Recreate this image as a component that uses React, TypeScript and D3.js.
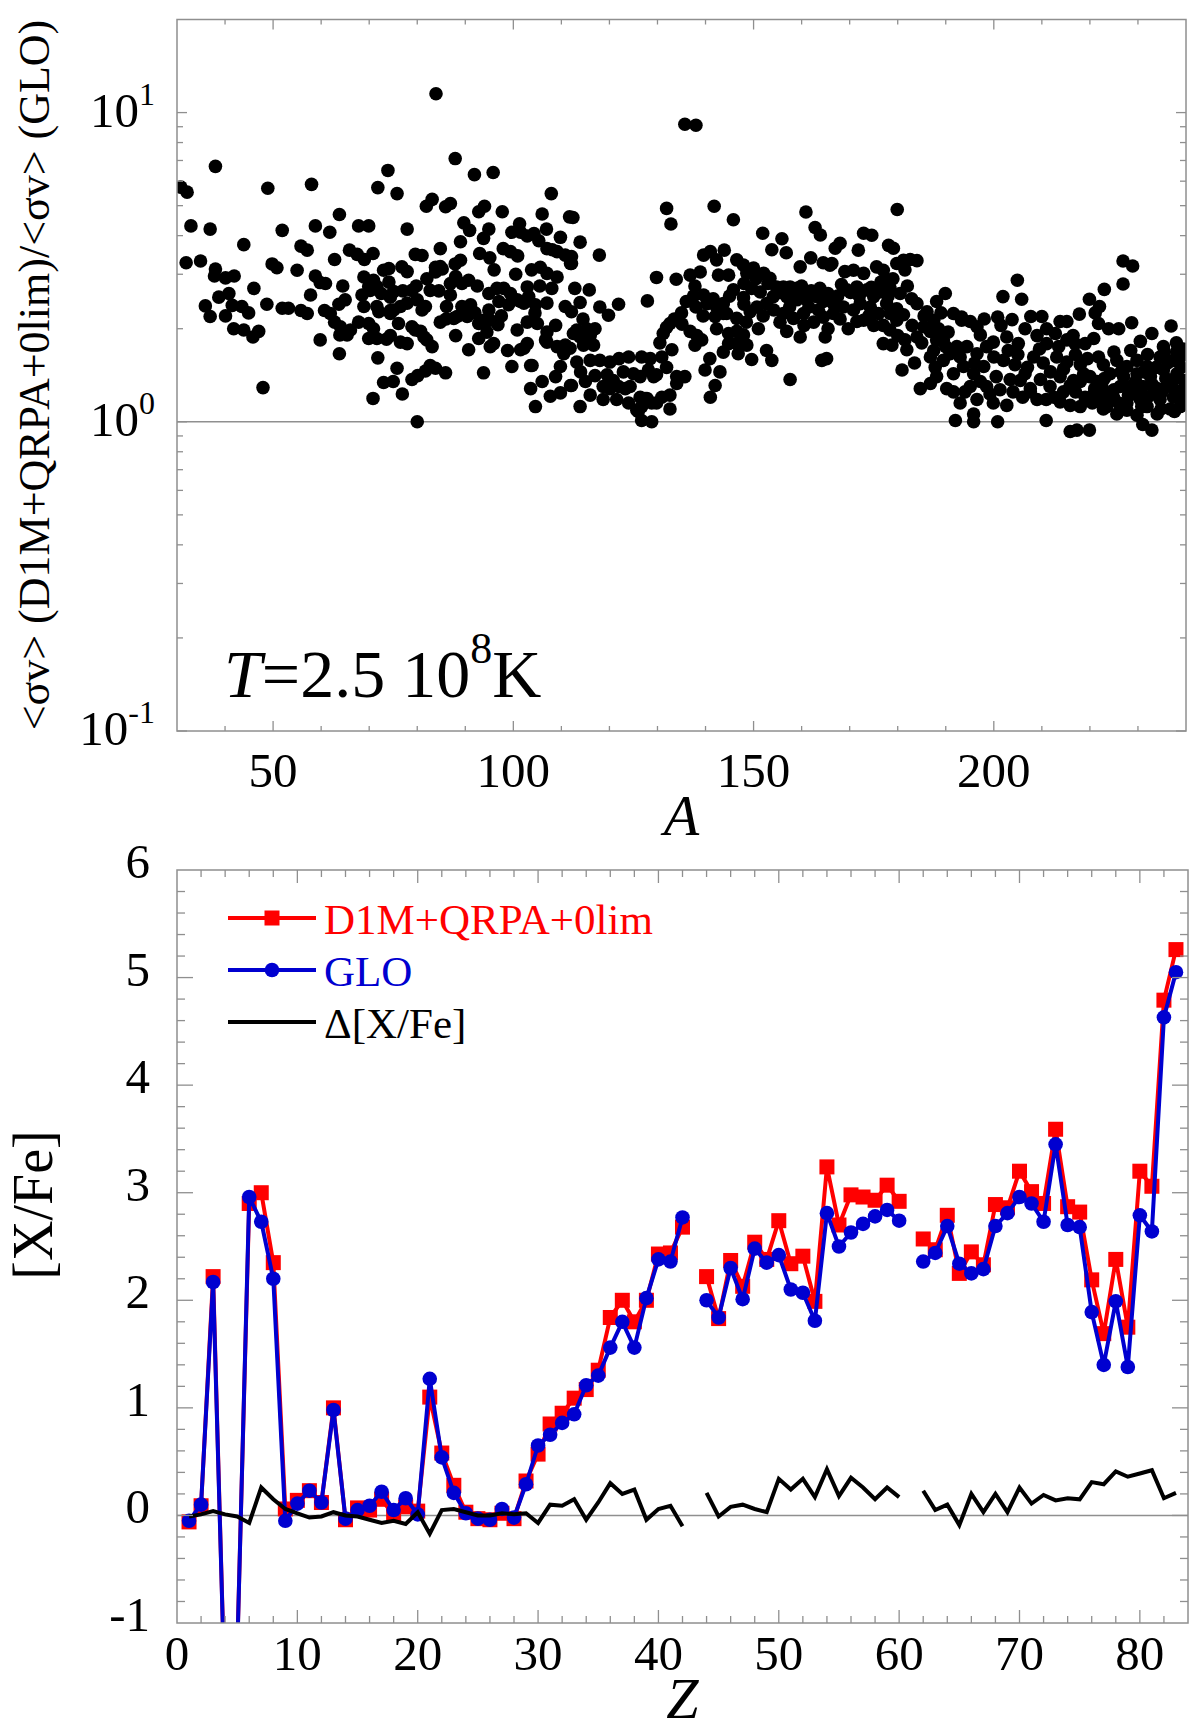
import React from 'react';
import * as d3 from 'd3';

// ratio <σv>(D1M+QRPA+0lim)/<σv>(GLO) vs mass number A
const scatterLight: [number, number][] = [
  [30.8,5.74],[32.1,5.53],[38,6.7],[32.9,4.3],[36.9,4.2],[31.9,3.27],[34.9,3.31],[38,3.12],[37.8,2.96],[40.1,2.92],
  [41.9,2.96],[43.9,3.74],[48.9,5.69],[51.9,4.16],[49.8,3.24],[50.8,3.15],[55,3.09],[58,5.86],[58.8,4.3],[61.8,4.1],
  [63.8,4.68],[67.8,4.3],[69.9,4.3],[65.9,3.59],[67.5,3.48],[69,3.35],[70.8,3.5],[55.8,3.7],[57.1,3.59],[62.8,3.35],
  [58.8,2.96],[59.8,2.82],[60.9,2.8],[57.8,2.57],[48.7,2.4],[51.9,2.33],[53.2,2.33],[55.8,2.29],[57.1,2.24],[60.7,2.29],
  [61.9,2.24],[62.8,2.1],[63.9,1.91],[63.7,2.4],[65,2.48],[68.5,2.57],[70.2,2.66],[71.6,2.74],[72.5,2.6],[68.9,2.36],
  [71.6,2.36],[72,2.27],[74.4,2.53],[75.1,2.64],[74.4,2.29],[64,2.03],[65.4,1.91],[66.1,1.98],[67.8,2.1],[69.9,2.08],
  [70.9,2.0],[59.8,1.84],[63.8,1.66],[69.9,1.86],[71.6,1.86],[73.6,1.85],[74.4,1.9],[71.8,1.61],[73,1.34],[75,1.35],
  [75.8,1.49],[70.8,1.19],[76.9,1.23],[78.9,1.37],[80.1,1.41],[81.7,1.46],[82.7,1.52],[83.8,1.49],[85.9,1.44],[80,1.0],
  [47.9,1.29],[87.9,7.1],[73.9,6.5],[71.8,5.72],[75.8,5.47],[91.9,6.3],[95.8,6.4],[107.9,5.47],[77.9,4.2],[81.9,4.98],
  [83.1,5.24],[85.9,4.96],[86.9,5.08],[92.8,4.78],[94,4.98],[97.7,4.78],[111.7,4.6],[106,4.7],[106.9,4.2],[89.7,4.4],
  [90.9,4.16],[89,3.82],[94.9,4.2],[93.8,3.92],[99.7,4.1],[101.3,4.37],[102.9,3.99],[109.8,3.95],[108.1,3.6],[74.1,3.13],
  [76.8,3.17],[77.9,3.06],[79.6,3.48],[81,3.45],[84.8,3.63],[82,2.9],[83.8,3.16],[85.2,3.12],[87.9,3.24],[89,3.33],
  [93,3.5],[95.1,3.39],[97.9,3.63],[99.4,3.55],[100.9,3.44],[101.5,4.1],[104.3,4.06],[105.3,3.85],[107,3.63],[109.1,3.55],
  [110.8,3.46],[111.9,3.25],[105.6,3.16],[107,3.02],[109.1,2.94],[102.9,2.73],[98,2.7],[101.5,2.45],[103.2,2.54],[104.6,2.39],
  [107,2.42],[110.8,2.36],[108.8,2.05],[107,1.81],[109.1,1.75],[110.8,1.77],[110.5,1.66],[103.6,1.52],[106,1.35],[107.7,1.21],
  [109.8,1.24],[111.9,1.31],[104.6,1.12],[108.8,1.4],[109.8,1.51],[99.7,1.51],[102.2,1.73],[102.9,1.79],[101.5,1.71],[100.8,1.98],
  [102.9,2.1],[105,2.08],[106.7,1.84],[107,1.95],[99.4,2.6],[100.8,2.48],[102.2,2.42],[97,2.45],[99,2.39],[96.6,2.7],
  [94.9,2.6],[94.9,2.3],[95.2,2.13],[96.8,2.06],[93.8,2.13],[92.8,2.08],[91.1,2.39],[90.4,2.19],[89.3,2.36],[88.3,2.19],
  [87.6,2.16],[89.3,2.8],[90.7,2.87],[86.9,2.8],[86.9,2.57],[86.1,2.36],[84.8,2.1],[83.8,3.05],[84.8,3.18],[82.7,2.66],
  [78.9,2.66],[80,2.48],[81,2.3],[81.7,2.36],[77.9,2.42],[76.5,2.36],[75.1,2.3],[74.4,2.24],[78.9,2.03],[79.6,1.98],
  [80.7,1.96],[81.4,1.88],[82,1.84],[83.1,1.75],[77.9,1.79],[76.5,1.81],[76.1,2.08],[92.8,1.86],[90.7,1.71],[95.2,1.75],
  [95.9,1.79],[93.8,1.44],[103.6,1.28],[103.9,1.52],[68.9,2.94],[69.9,2.74],[70.9,2.87],[73,3.09],[74.1,2.83],[35.9,2.37],
  [36.9,2.19],[38.7,2.53],[40.1,2.2],[40.8,2.6],[41.5,2.38],[43.5,2.36],[44.9,2.25],[41.8,2.0],[43.9,1.98],[45.8,1.88],
  [47,1.96],[46,2.7],[83.9,11.5],
  [64.5,2.75],[77,2.65],[79.8,2.75],[84.5,2.65],[88,2.95],[92.5,2.75],[96,3.1],[100.5,3.0],[103.8,3.1],[105.5,2.75],
  [108,2.7],[92,2.25],[97.5,2.2],[104.5,2.25],[86,2.15],[88,1.9],[94.5,1.95],[98.8,1.7],
];

const scatterMid: [number, number][] = [
  [112.4,4.58],[113.9,3.81],[112.1,3.42],[112.1,3.25],[117.9,3.46],[112.8,2.7],[115.8,2.67],[113.9,2.43],[112.1,2.27],[118,2.35],
  [119.8,2.21],[121.9,2.4],[127.9,2.46],[129.8,2.93],[131.9,4.9],[132.8,4.36],[133.9,2.89],[141.8,4.98],[145.8,4.5],[151.9,4.07],
  [155.9,3.91],[153.8,3.6],[156.8,3.52],[160.9,4.77],[162.8,4.25],[163.9,4.02],[167,3.64],[168,3.78],[161.9,3.39],[159.7,3.17],
  [166.3,3.25],[171.8,3.59],[172.9,4.07],[174.6,4.01],[178.1,3.72],[179.1,3.64],[179.9,4.86],[179.8,3.25],[181.2,3.33],[182.6,3.35],
  [184,3.32],[172.9,3.02],[175.6,3.17],[177,3.09],[177.4,2.9],[169,3.06],[170.8,3.09],[164.5,3.27],[165.9,3.21],[148.6,3.02],
  [150,3.14],[152.1,3.02],[153.4,2.91],[139.6,3.46],[141,3.55],[142.3,3.34],[143.9,3.59],[146.5,3.34],[147.9,3.21],[136.8,2.98],
  [138.9,3.05],[137.8,2.75],[142.7,2.98],[144.8,2.98],[145.8,2.67],[147.9,2.52],[139.6,2.57],[141.6,2.5],[143.7,2.41],[140.3,2.41],
  [142.3,2.35],[144.4,2.24],[149.6,2.7],[151.4,2.63],[150.7,2.35],[152.7,2.41],[154.1,2.54],[154.8,2.73],[156.2,2.73],[157.6,2.73],
  [159,2.7],[160.4,2.6],[156.9,2.54],[159,2.48],[161.1,2.48],[163.2,2.54],[164.5,2.45],[166.6,2.41],[156.2,2.24],[158.3,2.16],
  [160.4,2.24],[162.5,2.1],[164.5,2.18],[166.6,2.24],[168.7,2.35],[170.8,2.3],[169.4,2.67],[171.5,2.73],[173.6,2.67],[175,2.54],
  [176.3,2.63],[178.4,2.7],[172.2,2.41],[174.3,2.35],[176,2.24],[177.7,2.41],[177,2.05],[178.4,2.24],[179.8,2.32],[169.7,2.0],
  [171.5,2.11],[172.9,2.13],[155.5,2.1],[156.9,1.96],[159.7,1.88],[164.9,1.88],[164.2,1.58],[165.2,1.6],[157.6,1.37],[142,2.19],
  [143.7,2.24],[146.5,2.16],[149.3,2.27],[142.3,2.0],[144.8,1.93],[146.5,1.96],[147.9,1.91],[144.8,1.79],[146.5,1.79],[148.6,1.77],
  [146.8,1.66],[149.6,1.59],[152.7,1.7],[153.8,1.58],[140.9,1.6],[139.9,1.47],[143.7,1.68],[143,1.45],[142,1.31],[141,1.2],
  [131.2,1.93],[132.6,2.08],[131.9,2.02],[135.1,2.07],[136.8,1.96],[138.2,1.9],[137.8,1.77],[139.2,1.84],[133,1.71],[130.9,1.62],
  [131.9,1.5],[134,1.4],[135.7,1.4],[134,1.33],[132.6,1.22],[132.6,1.1],[130.9,1.2],[129.8,1.15],[126.7,1.62],[124,1.62],
  [126.4,1.2],[127.8,1.19],[128.8,1.15],[126.7,1.12],[126,1.08],[126.7,1.01],[128.8,1.0],[129.8,1.42],[120.8,1.36],[122.9,1.45],
  [125,1.43],[126.4,1.4],[128.1,1.47],[129.2,1.4],[118.7,1.3],[120.1,1.28],[121.9,1.3],[123.3,1.28],[124.3,1.3],[116,1.22],
  [118.7,1.18],[121.5,1.18],[124,1.15],[125.7,1.09],[127.4,1.19],[113.9,1.12],[112.1,1.31],[117,1.41],[113.2,1.56],[116,1.58],
  [118,1.58],[120.1,1.56],[111.8,1.73],[114.6,1.77],[116.7,1.77],[113.9,1.88],[113.2,1.98],[115.3,2.0],[117,2.0],[112.5,1.93],
  [182.9,2.5],[184,2.41],[181.2,2.22],[179.8,2.13],[178.4,1.98],[186.1,2.27],[187.5,2.13],[188.1,2.45],[189.9,2.6],[191.6,2.24],
  [193.3,2.13],[177,1.79],[178.8,1.77],[181.5,1.84],[181.9,1.71],[184,1.88],[185.4,2.03],[186.8,1.96],[188.1,1.84],[189.5,1.84],
  [186.8,1.62],[187.8,1.5],[189.5,1.58],[190.9,1.66],[192.3,1.75],[193,1.62],[180.9,1.47],[184.7,1.28],[186.8,1.33],[188.1,1.4],
  [190.2,1.28],[191.6,1.25],[193,1.15],[192,1.01],[191.6,1.43],[135.7,9.17],[138,9.1],
  [145,2.55],[148,2.8],[150.5,2.9],[153,2.8],[155.5,2.62],[158,2.6],[160,2.75],[162,2.65],[163.8,2.7],[165.5,2.6],
  [167.5,2.55],[168.3,2.78],[170.2,2.62],[172,2.55],[174.5,2.72],[176.5,2.83],[178,2.55],[180.5,2.6],[182,2.75],[179,2.9],
  [181.5,3.1],[174,2.2],[168,2.15],[163.5,2.3],[161.5,2.35],[157.5,2.35],[154.2,2.3],[152,2.2],[148,2.4],[185.5,2.2],
  [188.5,2.0],[190.5,1.95],[189,2.25],[183,2.05],[185,1.8],[187.5,1.7],[190,1.75],[183.5,1.55],[180,1.9],[175,2.05],
  [165.5,2.0],[160.5,2.05],[151,2.0],[148.5,2.1],[139.5,2.2],[138,2.35],[137.5,2.55],[136,2.45],[135,2.25],[133.5,2.15],
  [130.5,1.8],[128.5,1.6],[122,1.6],[119.5,1.42],[115,1.35],[114,1.45],[116,1.9],[114.5,2.15],
];

const scatterHeavy: [number, number][] = [
  [226.9,3.31],[228.9,3.19],[226.9,2.79],[223,2.68],[219.9,2.49],[222,2.36],[221.1,2.25],[204.9,2.87],[201.9,2.54],[205.8,2.49],
  [200.8,2.18],[203.8,2.14],[207.7,2.19],[210,2.19],[213.8,2.11],[215.2,2.11],[217.8,2.23],[221.8,2.08],[223.9,2.0],[226,2.0],
  [228.7,2.09],[236.9,2.04],[232.9,1.93],[238,1.8],[193.3,2.18],[195.1,2.11],[196.5,2.03],[197.2,1.91],[199.9,1.81],[202.7,1.88],
  [205.1,1.79],[209,1.9],[211,1.79],[212.8,1.93],[215.2,1.84],[216.9,1.79],[219,1.79],[220.8,1.86],[230.5,1.82],[235.3,1.75],
  [238.1,1.69],[194.4,1.75],[196.5,1.66],[197.9,1.51],[195.8,1.43],[193.7,1.51],[202,1.58],[204.4,1.53],[206.5,1.43],[208.3,1.62],
  [210.3,1.55],[213.1,1.62],[215.2,1.56],[218,1.53],[218.7,1.43],[216.6,1.36],[222.8,1.53],[225.6,1.58],[227.7,1.51],[229.8,1.58],
  [231.9,1.51],[234.6,1.62],[237.4,1.58],[238.8,1.62],[195.1,1.3],[197.2,1.35],[199.2,1.23],[201.3,1.27],[203.4,1.37],[207.6,1.28],
  [209.7,1.37],[211.7,1.3],[213.8,1.4],[215.9,1.31],[218,1.35],[220.8,1.23],[222.1,1.18],[223.5,1.12],[224.9,1.2],[226.3,1.3],
  [227.7,1.15],[229.1,1.23],[230.5,1.18],[231.9,1.12],[233.2,1.23],[234.6,1.18],[236,1.3],[237.4,1.2],[238.8,1.12],[239.5,1.36],
  [221.5,1.35],[224.2,1.43],[227,1.4],[229.8,1.43],[232.6,1.4],[235.3,1.47],[238.1,1.43],[199.9,1.15],[202.7,1.13],[205.5,1.36],
  [207.6,1.25],[195.8,1.06],[195.8,1.0],[200.8,1.0],[210.9,1.01],[210.9,1.18],[213.8,1.16],[215.9,1.13],[218,1.12],[215.9,0.93],
  [217.3,0.94],[219.9,0.94],[231,0.98],[232.9,0.94],[234,1.06],[236.7,1.1],[238.8,1.18],[225.6,1.06],[227.7,1.09],[229.8,1.05],
  [221,1.28],[223,1.25],[225,1.27],[228.5,1.3],[230,1.26],[233,1.32],[235,1.25],[237,1.33],[239,1.26],
  [220.5,1.15],[222.5,1.3],[224,1.22],[226,1.15],[228,1.22],[229.5,1.35],[231,1.3],[232,1.2],[234,1.28],[235.8,1.38],
  [237.8,1.25],[239.2,1.19],[220,1.4],[223,1.38],[226.5,1.45],[231.2,1.45],[233.8,1.5],[236.2,1.55],[239,1.5],[221.8,1.62],
  [225,1.68],[228.5,1.7],[232,1.65],[235.5,1.68],[239.4,1.72],[222.8,1.1],[226.8,1.1],[230.8,1.12],[234.8,1.1],[237.6,1.08],
  [219,1.2],[217,1.25],[214.5,1.25],[212.5,1.2],[209,1.18],[206,1.2],[204,1.25],[198.5,1.3],[196.5,1.18],[194,1.25],
  [200.5,1.4],[207,1.5],[211.8,1.45],[214.5,1.48],[217,1.65],[219.5,1.6],[205,1.65],[200,1.62],[196,1.55],[198.5,1.75],
  [203,1.7],[209.5,1.72],[213.5,1.75],[216.5,1.9],[211,2.0],[206.5,2.0],[201.5,2.05],[198,2.15],
];

// [X/Fe] vs Z (Z = 1..83), null = element not plotted
const zValues = d3.range(1, 84);
const d1mQrpa: (number | null)[] = [
  -0.06, 0.09, 2.22, -1.78, -1.28, 2.90, 3.00, 2.35, 0.06, 0.14,
  0.23, 0.12, 1.00, -0.04, 0.07, 0.05, 0.15, 0.00, 0.08, 0.04,
  1.10, 0.58, 0.28, 0.03, -0.03, -0.04, 0.02, -0.03, 0.32, 0.57,
  0.85, 0.95, 1.09, 1.17, 1.35, 1.84, 2.00, 1.80, 2.00, 2.43,
  2.44, 2.68, null, 2.22, 1.83, 2.37, 2.13, 2.54, 2.38, 2.74,
  2.34, 2.41, 1.99, 3.24, 2.70, 2.98, 2.96, 2.93, 3.07, 2.92,
  null, 2.57, 2.47, 2.79, 2.25, 2.45, 2.33, 2.89, 2.86, 3.20,
  3.01, 2.90, 3.59, 2.87, 2.82, 2.19, 1.69, 2.38, 1.75, 3.20,
  3.06, 4.79, 5.26,
];
const glo: (number | null)[] = [
  -0.05, 0.10, 2.17, -1.79, -1.30, 2.96, 2.73, 2.20, -0.05, 0.11,
  0.23, 0.12, 0.98, -0.03, 0.05, 0.09, 0.22, 0.05, 0.16, 0.01,
  1.27, 0.54, 0.21, 0.02, -0.03, -0.04, 0.06, -0.02, 0.29, 0.65,
  0.75, 0.86, 0.94, 1.21, 1.30, 1.56, 1.80, 1.56, 2.02, 2.38,
  2.36, 2.77, null, 2.00, 1.84, 2.30, 2.01, 2.48, 2.35, 2.42,
  2.10, 2.07, 1.81, 2.81, 2.50, 2.63, 2.71, 2.78, 2.84, 2.74,
  null, 2.36, 2.44, 2.69, 2.34, 2.25, 2.29, 2.69, 2.81, 2.96,
  2.90, 2.73, 3.45, 2.70, 2.68, 1.89, 1.40, 1.99, 1.38, 2.79,
  2.64, 4.63, 5.05,
];
const deltaXFe: (number | null)[] = [
  -0.01, 0.01, 0.04, 0.01, -0.01, -0.07, 0.26, 0.15, 0.06, 0.02,
  -0.02, -0.01, 0.03, 0.00, -0.01, -0.04, -0.07, -0.05, -0.08, 0.03,
  -0.17, 0.05, 0.06, 0.03, 0.00, 0.00, 0.02, 0.01, 0.02, -0.07,
  0.10, 0.09, 0.15, -0.04, 0.12, 0.30, 0.20, 0.24, -0.04, 0.06,
  0.09, -0.10, null, 0.21, -0.01, 0.08, 0.10, 0.06, 0.03, 0.34,
  0.24, 0.34, 0.17, 0.43, 0.18, 0.35, 0.26, 0.15, 0.26, 0.17,
  null, 0.23, 0.05, 0.10, -0.09, 0.20, 0.03, 0.20, 0.03, 0.26,
  0.11, 0.19, 0.14, 0.16, 0.15, 0.31, 0.29, 0.41, 0.36, 0.39,
  0.42, 0.16, 0.21,
];

const topXTicks = [50, 100, 150, 200];
const topYTicks = [0.1, 1, 10];
const topYExp = ['-1', '0', '1'];
const botXTicks = [0, 10, 20, 30, 40, 50, 60, 70, 80];
const botYTicks = [-1, 0, 1, 2, 3, 4, 5, 6];

const serif = '"Liberation Serif", "Times New Roman", serif';
const axisGray = '#8f8f8f';
const RED = '#ff0000';
const BLUE = '#0000d0';

function TopPanel() {
  const x = d3.scaleLinear().domain([30, 240]).range([177, 1186]);
  const y = d3.scaleLog().domain([0.1, 20]).range([731, 19.5]);
  const [x0, x1] = x.range();
  const [y0, y1] = y.range();
  const pts = [...scatterLight, ...scatterMid, ...scatterHeavy];

  const xMinor = d3.range(40, 240, 10);
  const yMinor: number[] = [];
  for (const dec of [0.1, 1, 10]) for (let k = 2; k <= 9; k++) if (k * dec < 20) yMinor.push(k * dec);

  return (
    <g>
      <defs>
        <clipPath id="clipTop">
          <rect x={x0} y={y1} width={x1 - x0} height={y0 - y1} />
        </clipPath>
      </defs>
      <line x1={x0} x2={x1} y1={y(1)} y2={y(1)} stroke={axisGray} strokeWidth={1.5} />
      <g clipPath="url(#clipTop)">
        {pts.map(([a, r], i) => (
          <circle key={i} cx={x(a)} cy={y(r)} r={6.8} fill="#000" />
        ))}
      </g>
      <rect x={x0} y={y1} width={x1 - x0} height={y0 - y1} fill="none" stroke={axisGray} strokeWidth={1.5} />
      {xMinor.map((t) => {
        const len = t % 50 === 0 ? 10 : 5;
        return (
          <g key={t} stroke={axisGray} strokeWidth={1.3}>
            <line x1={x(t)} x2={x(t)} y1={y0} y2={y0 - len} />
            <line x1={x(t)} x2={x(t)} y1={y1} y2={y1 + len} />
          </g>
        );
      })}
      {[...topYTicks, ...yMinor].map((t) => {
        const len = topYTicks.includes(t) ? 10 : 6;
        return (
          <g key={'y' + t} stroke={axisGray} strokeWidth={1.3}>
            <line x1={x0} x2={x0 + len} y1={y(t)} y2={y(t)} />
            <line x1={x1} x2={x1 - len} y1={y(t)} y2={y(t)} />
          </g>
        );
      })}
      {topXTicks.map((t) => (
        <text key={t} x={x(t)} y={787} textAnchor="middle" fontSize={49} fontFamily={serif}>{t}</text>
      ))}
      {topYTicks.map((t, i) => (
        <text key={t} x={155} y={y(t) + 14} textAnchor="end" fontSize={49} fontFamily={serif}>
          10<tspan fontSize={32} dy={-22}>{topYExp[i]}</tspan>
        </text>
      ))}
      <text x={(x0 + x1) / 2} y={835} textAnchor="middle" fontSize={58} fontStyle="italic" fontFamily={serif}>A</text>
      <text transform="translate(49,375) rotate(-90)" textAnchor="middle" fontSize={44} fontFamily={serif}>
        {'<σv> (D1M+QRPA+0lim)/<σv> (GLO)'}
      </text>
      <text x={224} y={697} fontSize={68} fontFamily={serif}>
        <tspan fontStyle="italic">T</tspan>
        <tspan>=2.5 10</tspan>
        <tspan fontSize={44} dy={-34}>8</tspan>
        <tspan dy={34}>K</tspan>
      </text>
    </g>
  );
}

function BottomPanel() {
  const x = d3.scaleLinear().domain([0, 84]).range([177, 1188]);
  const y = d3.scaleLinear().domain([-1, 6]).range([1623, 870]);
  const [x0, x1] = x.range();
  const [y0, y1] = y.range();

  const line = d3.line<[number, number | null]>()
    .defined((d) => d[1] !== null)
    .x((d) => x(d[0]))
    .y((d) => y(d[1] as number));

  const redPts = zValues.map((z, i) => [z, d1mQrpa[i]] as [number, number | null]);
  const bluePts = zValues.map((z, i) => [z, glo[i]] as [number, number | null]);
  const deltaPts = zValues.map((z, i) => [z, deltaXFe[i]] as [number, number | null]);

  const xMinor = d3.range(2, 84, 2);
  const yMinor = d3.range(-0.8, 6, 0.2).map((v) => Math.round(v * 10) / 10);

  const legendY = [918, 970, 1022];

  return (
    <g>
      <defs>
        <clipPath id="clipBot">
          <rect x={x0} y={y1} width={x1 - x0} height={y0 - y1} />
        </clipPath>
      </defs>
      <line x1={x0} x2={x1} y1={y(0)} y2={y(0)} stroke={axisGray} strokeWidth={1.5} />
      <g clipPath="url(#clipBot)">
        <path d={line(redPts) ?? ''} fill="none" stroke={RED} strokeWidth={4} strokeLinejoin="round" />
        {redPts.filter((d) => d[1] !== null).map(([z, v]) => (
          <rect key={'r' + z} x={x(z) - 7.5} y={y(v as number) - 7.5} width={15} height={15} fill={RED} />
        ))}
        <path d={line(bluePts) ?? ''} fill="none" stroke={BLUE} strokeWidth={4} strokeLinejoin="round" />
        {bluePts.filter((d) => d[1] !== null).map(([z, v]) => (
          <circle key={'b' + z} cx={x(z)} cy={y(v as number)} r={7.3} fill={BLUE} />
        ))}
        <path d={line(deltaPts) ?? ''} fill="none" stroke="#000" strokeWidth={4} strokeLinejoin="miter" />
      </g>
      <rect x={x0} y={y1} width={x1 - x0} height={y0 - y1} fill="none" stroke={axisGray} strokeWidth={1.5} />
      {xMinor.map((t) => {
        const len = t % 10 === 0 ? 13 : 7;
        return (
          <g key={t} stroke={axisGray} strokeWidth={1.3}>
            <line x1={x(t)} x2={x(t)} y1={y0} y2={y0 - len} />
            <line x1={x(t)} x2={x(t)} y1={y1} y2={y1 + len} />
          </g>
        );
      })}
      {yMinor.map((t) => {
        const len = Number.isInteger(t) ? 16 : 8;
        return (
          <g key={'y' + t} stroke={axisGray} strokeWidth={1.3}>
            <line x1={x0} x2={x0 + len} y1={y(t)} y2={y(t)} />
            <line x1={x1} x2={x1 - len} y1={y(t)} y2={y(t)} />
          </g>
        );
      })}
      {botXTicks.map((t) => (
        <text key={t} x={x(t)} y={1670} textAnchor="middle" fontSize={49} fontFamily={serif}>{t}</text>
      ))}
      {botYTicks.map((t) => (
        <text key={t} x={150} y={y(t) + 8} textAnchor="end" fontSize={49} fontFamily={serif}>{t}</text>
      ))}
      <text x={(x0 + x1) / 2} y={1718} textAnchor="middle" fontSize={58} fontStyle="italic" fontFamily={serif}>Z</text>
      <text transform="translate(52,1205) rotate(-90)" textAnchor="middle" fontSize={56} fontFamily={serif}>[X/Fe]</text>

      {/* legend */}
      <line x1={228} x2={316} y1={legendY[0]} y2={legendY[0]} stroke={RED} strokeWidth={4} />
      <rect x={272 - 7.5} y={legendY[0] - 7.5} width={15} height={15} fill={RED} />
      <text x={324} y={legendY[0] + 16} fontSize={43} fill={RED} fontFamily={serif}>D1M+QRPA+0lim</text>
      <line x1={228} x2={316} y1={legendY[1]} y2={legendY[1]} stroke={BLUE} strokeWidth={4} />
      <circle cx={272} cy={legendY[1]} r={7.3} fill={BLUE} />
      <text x={324} y={legendY[1] + 16} fontSize={43} fill={BLUE} fontFamily={serif}>GLO</text>
      <line x1={228} x2={316} y1={legendY[2]} y2={legendY[2]} stroke="#000" strokeWidth={4} />
      <text x={324} y={legendY[2] + 16} fontSize={43} fill="#000" fontFamily={serif}>Δ[X/Fe]</text>
    </g>
  );
}

export default function App() {
  return (
    <svg
      width={1200}
      height={1732}
      viewBox="0 0 1200 1732"
      style={{ position: 'absolute', left: 0, top: 0, background: '#fff' }}
    >
      <rect width={1200} height={1732} fill="#fff" />
      <TopPanel />
      <BottomPanel />
    </svg>
  );
}
